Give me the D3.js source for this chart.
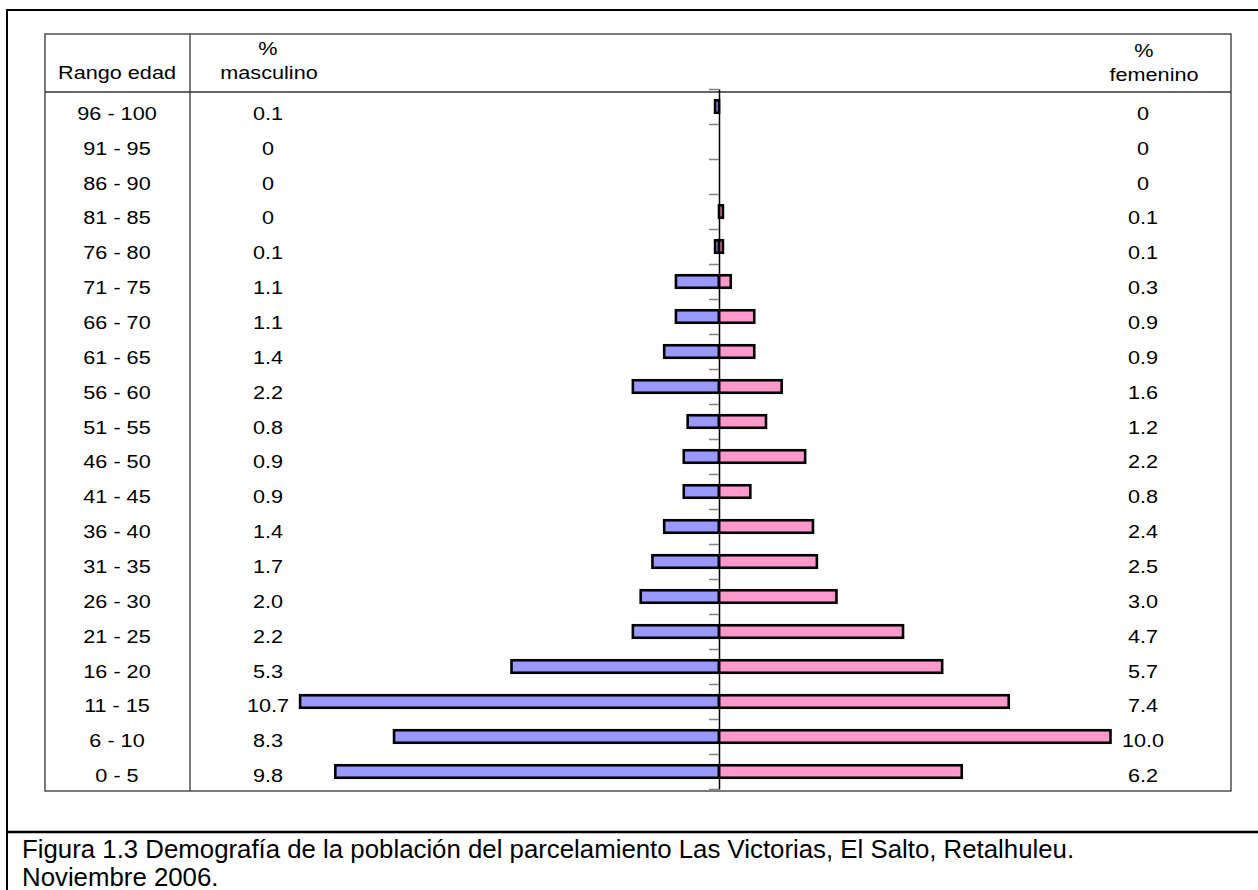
<!DOCTYPE html>
<html>
<head>
<meta charset="utf-8">
<script src="https://cdn.jsdelivr.net/npm/d3@7"></script>
<style>
  html, body { margin: 0; padding: 0; background: #fff; }
  svg { display: block; font-family: "Liberation Sans", Arial, sans-serif; }
</style>
</head>
<body>
<svg id="chart" width="1258" height="890"></svg>
<script>
const ageGroups = ["96 - 100","91 - 95","86 - 90","81 - 85","76 - 80","71 - 75","66 - 70","61 - 65","56 - 60","51 - 55","46 - 50","41 - 45","36 - 40","31 - 35","26 - 30","21 - 25","16 - 20","11 - 15","6 - 10","0 - 5"];
const maleValues = [0.1,0,0,0,0.1,1.1,1.1,1.4,2.2,0.8,0.9,0.9,1.4,1.7,2.0,2.2,5.3,10.7,8.3,9.8];
const femaleValues = [0,0,0,0.1,0.1,0.3,0.9,0.9,1.6,1.2,2.2,0.8,2.4,2.5,3.0,4.7,5.7,7.4,10.0,6.2];
const maleLabels = ["0.1","0","0","0","0.1","1.1","1.1","1.4","2.2","0.8","0.9","0.9","1.4","1.7","2.0","2.2","5.3","10.7","8.3","9.8"];
const femaleLabels = ["0","0","0","0.1","0.1","0.3","0.9","0.9","1.6","1.2","2.2","0.8","2.4","2.5","3.0","4.7","5.7","7.4","10.0","6.2"];
const headerAge = "Rango edad";
const headerMale = ["%", "masculino"];
const headerFemale = ["%", "femenino"];
const captionLines = ["Figura 1.3 Demografía de la población del parcelamiento Las Victorias, El Salto, Retalhuleu.", "Noviembre 2006."];

const svg = d3.select("#chart");
const W = 1258, H = 890;

// outer frame
svg.append("rect").attr("x", 7).attr("y", 10).attr("width", W + 20).attr("height", H + 20)
  .attr("fill", "none").attr("stroke", "#000").attr("stroke-width", 2);
svg.append("line").attr("x1", 7).attr("x2", W).attr("y1", 832).attr("y2", 832)
  .attr("stroke", "#000").attr("stroke-width", 2.5);

// table
const tL = 45, tR = 1231, tT = 34, tB = 791, hdrY = 92, colX = 190;
const tbl = svg.append("g").attr("stroke", "#333").attr("stroke-width", 1.3).attr("fill", "none");
tbl.append("rect").attr("x", tL).attr("y", tT).attr("width", tR - tL).attr("height", tB - tT);
tbl.append("line").attr("x1", colX).attr("x2", colX).attr("y1", tT).attr("y2", tB);
tbl.append("line").attr("x1", tL).attr("x2", tR).attr("y1", hdrY).attr("y2", hdrY);

// scales
const cx = 719;
const pxPerUnit = 39.15;
const xMale = d3.scaleLinear().domain([0, 11]).range([cx, cx - 11 * pxPerUnit]);
const xFemale = d3.scaleLinear().domain([0, 11]).range([cx, cx + 11 * pxPerUnit]);
const y = d3.scaleBand().domain(ageGroups).range([89, 789]);
const yLabel = d3.scaleBand().domain(ageGroups).range([96, 793]);
const yTicks = d3.scaleLinear().domain([0, ageGroups.length]).range([89, 789]);
const barH = 12.5;

const fontSize = 18.5;
const stretch = 1.17;

function stretchedText(sel, x, yy, txt) {
  return sel.append("text")
    .attr("transform", `translate(${x},${yy}) scale(${stretch},1)`)
    .attr("text-anchor", "middle").attr("font-size", fontSize).attr("fill", "#000")
    .text(txt);
}

// header texts
stretchedText(svg, 117, 79, headerAge);
stretchedText(svg, 268, 55, headerMale[0]);
stretchedText(svg, 269, 79, headerMale[1]);
stretchedText(svg, 1144, 57, headerFemale[0]);
stretchedText(svg, 1154, 81, headerFemale[1]);

// row labels
const rows = svg.append("g");
ageGroups.forEach((g, i) => {
  const by = yLabel(g) + yLabel.bandwidth() / 2 + 6.5;
  stretchedText(rows, 117, by, g);
  stretchedText(rows, 268, by, maleLabels[i]);
  stretchedText(rows, 1143, by, femaleLabels[i]);
});

// bars
const bars = svg.append("g");
bars.selectAll("rect.male").data(ageGroups.map((d, i) => ({ g: d, v: maleValues[i] })).filter(d => d.v > 0))
  .join("rect").attr("class", "male")
  .attr("x", d => xMale(d.v)).attr("width", d => xMale(0) - xMale(d.v))
  .attr("y", d => y(d.g) + (y.bandwidth() - barH) / 2).attr("height", barH)
  .attr("fill", "#9999FF").attr("stroke", "#000").attr("stroke-width", 2.6);
bars.selectAll("rect.female").data(ageGroups.map((d, i) => ({ g: d, v: femaleValues[i] })).filter(d => d.v > 0))
  .join("rect").attr("class", "female")
  .attr("x", xFemale(0)).attr("width", d => xFemale(d.v) - xFemale(0))
  .attr("y", d => y(d.g) + (y.bandwidth() - barH) / 2).attr("height", barH)
  .attr("fill", "#FF99CC").attr("stroke", "#000").attr("stroke-width", 2.6);

// central axis
const axis = svg.append("g").attr("transform", `translate(${cx},0)`)
  .call(d3.axisLeft(yTicks).tickValues(d3.range(0, ageGroups.length + 1)).tickFormat("").tickSize(10).tickSizeOuter(0));
axis.select(".domain").attr("stroke", "#000").attr("stroke-width", 1.5);
axis.selectAll(".tick line").attr("stroke", "#808080").attr("stroke-width", 1.5);

// caption
const cap = svg.append("g").attr("font-size", 25.8).attr("fill", "#000");
cap.selectAll("text").data(captionLines).join("text")
  .attr("x", 22).attr("y", (d, i) => 858 + i * 28).text(d => d);
</script>
</body>
</html>
